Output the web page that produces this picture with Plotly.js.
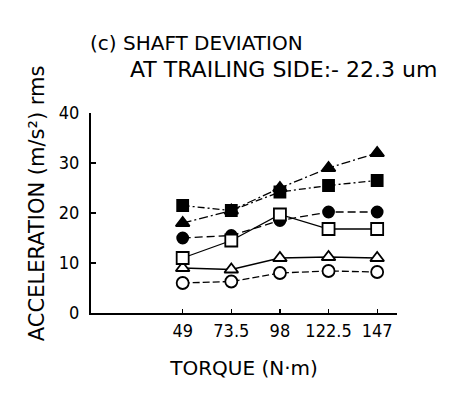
<!DOCTYPE html>
<html>
<head>
<meta charset="utf-8">
<script src="https://cdn.plot.ly/plotly-3.0.1.min.js"></script>
<style>html,body{margin:0;padding:0;background:#fff;}#chart{width:468px;height:397px;}</style>
</head>
<body>
<div id="chart"></div>
<script>
const torque = [49, 73.5, 98, 122.5, 147];
const torqueLabels = ["49", "73.5", "98", "122.5", "147"];
const yTicks = [0, 10, 20, 30, 40];
const filledTriangle = [18, 20.5, 25, 29, 32];
const filledSquare = [21.5, 20.5, 24.2, 25.5, 26.5];
const filledCircle = [15, 15.5, 18.5, 20.2, 20.2];
const openSquare = [11, 14.5, 19.7, 16.8, 16.8];
const openTriangle = [9, 8.7, 11, 11.2, 11];
const openCircle = [6, 6.3, 8, 8.4, 8.2];

function tr(y, symbol, filled, dash, size) {
  return {
    x: torque, y: y, type: 'scatter', mode: 'lines+markers',
    line: {color: '#000', width: 1.3, dash: dash},
    marker: {symbol: symbol, size: size, color: filled ? '#000' : '#fff',
             line: {color: '#000', width: 1.8}},
    cliponaxis: false, showlegend: false, hoverinfo: 'x+y'
  };
}

const data = [
  tr(openCircle, 'circle', false, '7px,3px', 12),
  tr(openTriangle, 'triangle-up', false, 'solid', 12),
  tr(filledCircle, 'circle', true, '8px,4px', 11),
  tr(openSquare, 'square', false, 'solid', 12),
  tr(filledSquare, 'square', true, '7px,3px,2px,3px', 11),
  tr(filledTriangle, 'triangle-up', true, '9px,3px,2px,3px', 12)
];

const wide = {family: 'DejaVu Sans, sans-serif', color: '#000'};
const narrow = {family: 'Liberation Sans Narrow, DejaVu Sans Condensed, sans-serif', color: '#000'};
const layout = {
  width: 468, height: 397,
  margin: {l: 91, r: 71, t: 113, b: 84},
  paper_bgcolor: '#fff', plot_bgcolor: '#fff',
  font: Object.assign({size: 14}, wide),
  xaxis: {
    range: [2.8, 157], tickvals: torque, ticktext: torqueLabels,
    showgrid: false, zeroline: false, showline: true, linecolor: '#000', linewidth: 1.5,
    ticks: 'inside', ticklen: 4, tickwidth: 1.3, tickcolor: '#000',
    ticklabelstandoff: 1,
    tickfont: Object.assign({size: 18}, narrow),
    title: {text: 'TORQUE (N·m)', font: Object.assign({size: 20}, wide), standoff: 21}
  },
  yaxis: {
    range: [0, 40], tickvals: yTicks,
    showgrid: false, zeroline: false, showline: true, linecolor: '#000', linewidth: 2,
    ticks: 'inside', ticklen: 5, tickwidth: 1.3, tickcolor: '#000',
    ticklabelstandoff: 6,
    tickfont: Object.assign({size: 18}, narrow)
  },
  annotations: [
    {text: '(c) SHAFT DEVIATION', xref: 'paper', yref: 'paper', x: -0.01, y: 1.35,
     xanchor: 'left', yanchor: 'middle', showarrow: false, font: Object.assign({size: 20}, wide)},
    {text: 'AT TRAILING SIDE:- 22.3 um', xref: 'paper', yref: 'paper', x: 0.121, y: 1.215,
     xanchor: 'left', yanchor: 'middle', showarrow: false, font: Object.assign({size: 22}, wide)},
    {text: 'ACCELERATION (m/s²) rms', xref: 'paper', yref: 'paper', x: -0.176, y: 0.55,
     xanchor: 'center', yanchor: 'middle', textangle: -90, showarrow: false,
     font: Object.assign({size: 21}, wide)}
  ]
};

Plotly.newPlot('chart', data, layout, {displayModeBar: false, staticPlot: true});
</script>
</body>
</html>
